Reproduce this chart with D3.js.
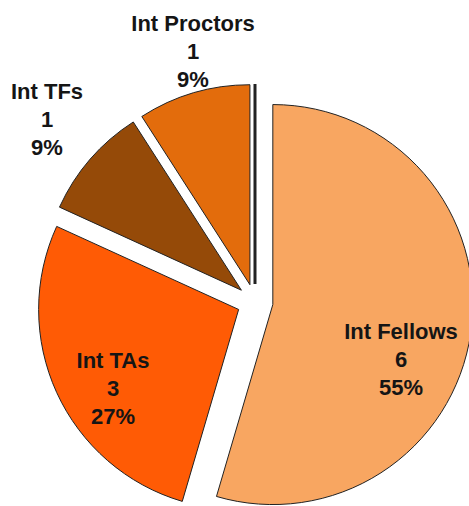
<!DOCTYPE html>
<html>
<head>
<meta charset="utf-8">
<title>Int staff pie</title>
<style>
  body { margin: 0; background: #fff; }
  svg { display: block; }
</style>
<script src="https://d3js.org/d3.v7.min.js"></script>
</head>
<body>
<script>
  // data
  var categories = ["Int Fellows", "Int TAs", "Int TFs", "Int Proctors", "Other"];
  var counts = [6, 3, 1, 1, 0];
  var colors = ["#F8A661", "#FF5B05", "#954A08", "#E36C0C", "#E36C0C"];

  var width = 469, height = 506,
      radius = 200,
      explode = 18,
      cx = 255, cy = 302;

  // where the three-line labels sit, relative to pie centre
  var labelPos = {
    "Int Fellows":  [146, 37],
    "Int TAs":      [-142, 66],
    "Int TFs":      [-208, -203],
    "Int Proctors": [-62, -271]
  };

  var total = d3.sum(counts);
  var data = categories.map((c, i) => ({name: c, value: counts[i], color: colors[i]}));

  var pie = d3.pie().sort(null).value(d => d.value);
  var arc = d3.arc().innerRadius(0).outerRadius(radius);

  var svg = d3.select("body").append("svg")
      .attr("width", width)
      .attr("height", height);

  var g = svg.append("g").attr("transform", `translate(${cx},${cy})`);

  g.selectAll("path")
    .data(pie(data))
    .enter()
    .append("path")
      .attr("d", arc)
      .attr("transform", d => {
        var a = (d.startAngle + d.endAngle) / 2;
        return `translate(${explode * Math.sin(a)},${-explode * Math.cos(a)})`;
      })
      .attr("fill", d => d.data.color)
      .attr("stroke", "#222")
      .attr("stroke-width", d => d.data.value === 0 ? 3 : 1)
      .attr("stroke-linejoin", "miter");

  var labels = g.selectAll("text.lbl")
    .data(data.filter(d => d.value > 0))
    .enter()
    .append("text")
      .attr("class", "lbl")
      .attr("x", d => labelPos[d.name][0])
      .attr("y", d => labelPos[d.name][1])
      .attr("text-anchor", "middle")
      .style("font", "bold 22px 'Liberation Sans', Arial, sans-serif")
      .style("fill", "#151515");

  labels.each(function(d) {
    var t = d3.select(this);
    var lines = [d.name, d.value, Math.round(d.value / total * 100) + "%"];
    lines.forEach((s, i) => {
      t.append("tspan")
        .attr("x", labelPos[d.name][0])
        .attr("dy", i === 0 ? 0 : 28)
        .text(s);
    });
  });
</script>
</body>
</html>
